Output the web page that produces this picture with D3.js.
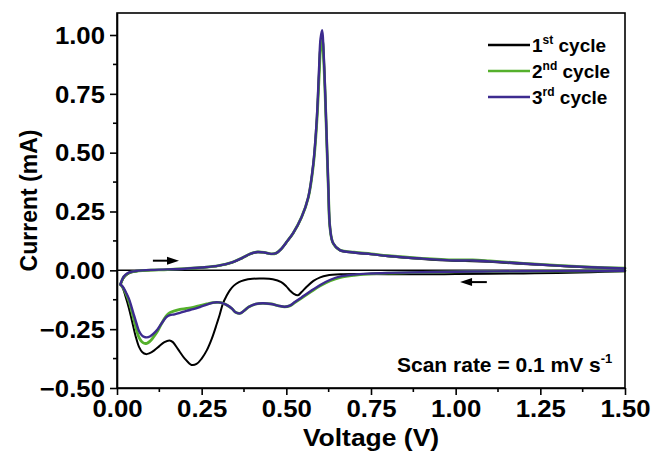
<!DOCTYPE html>
<html>
<head>
<meta charset="utf-8">
<script src="https://cdn.jsdelivr.net/npm/d3@7"></script>
<style>
  html, body { margin: 0; padding: 0; background: #fff; }
  svg { display: block; }
  text { font-family: "Liberation Sans", Arial, sans-serif; font-weight: bold; fill: #000; }
</style>
</head>
<body>
<svg id="chart" width="655" height="457"></svg>
<script>
// ---------------- DATA ----------------
const xTicks = [0.00, 0.25, 0.50, 0.75, 1.00, 1.25, 1.50];
const yTicks = [-0.50, -0.25, 0.00, 0.25, 0.50, 0.75, 1.00];
const seriesNames = ["1st cycle", "2nd cycle", "3rd cycle"];

// 1st cycle, cathodic scan (1.5 V -> 0.01 V)
const c1CathV = [1.50, 1.40, 1.30, 1.20, 1.10, 1.00, 0.90, 0.80, 0.72, 0.66, 0.62, 0.60, 0.58, 0.56, 0.545, 0.534, 0.522, 0.510, 0.500, 0.485, 0.46, 0.43, 0.40, 0.375, 0.36, 0.345, 0.333, 0.323, 0.313, 0.303, 0.295, 0.28, 0.265, 0.25, 0.235, 0.22, 0.20, 0.18, 0.165, 0.155, 0.14, 0.125, 0.11, 0.095, 0.085, 0.075, 0.065, 0.055, 0.045, 0.035, 0.025, 0.017, 0.01];
const c1CathI = [-0.004, -0.008, -0.011, -0.013, -0.015, -0.016, -0.017, -0.017, -0.016, -0.017, -0.022, -0.030, -0.045, -0.070, -0.092, -0.106, -0.100, -0.085, -0.068, -0.050, -0.038, -0.035, -0.036, -0.042, -0.050, -0.065, -0.085, -0.11, -0.14, -0.19, -0.226, -0.29, -0.34, -0.375, -0.398, -0.402, -0.375, -0.335, -0.305, -0.298, -0.305, -0.322, -0.34, -0.353, -0.356, -0.348, -0.325, -0.28, -0.22, -0.16, -0.11, -0.075, -0.06];
// 1st cycle, anodic scan (0.01 V -> 1.5 V)
const c1AnV = [0.01, 0.015, 0.02, 0.03, 0.04, 0.055, 0.075, 0.10, 0.15, 0.20, 0.25, 0.30, 0.34, 0.37, 0.395, 0.415, 0.435, 0.455, 0.47, 0.485, 0.50, 0.52, 0.545, 0.565, 0.58, 0.59, 0.597, 0.601, 0.606, 0.610, 0.614, 0.619, 0.624, 0.629, 0.638, 0.658, 0.70, 0.75, 0.80, 0.90, 1.00, 1.05, 1.10, 1.20, 1.30, 1.40, 1.50];
const c1AnI = [-0.06, -0.045, -0.032, -0.018, -0.01, -0.005, -0.002, 0.0, 0.002, 0.006, 0.011, 0.019, 0.033, 0.052, 0.07, 0.077, 0.075, 0.069, 0.072, 0.09, 0.118, 0.157, 0.225, 0.31, 0.455, 0.637, 0.85, 0.965, 1.005, 0.92, 0.78, 0.565, 0.35, 0.18, 0.115, 0.085, 0.075, 0.068, 0.06, 0.048, 0.04, 0.039, 0.036, 0.027, 0.019, 0.012, 0.008];

// 2nd & 3rd cycles, cathodic scan
const c23CathV = [1.50, 1.35, 1.20, 1.05, 0.90, 0.80, 0.74, 0.70, 0.66, 0.63, 0.60, 0.57, 0.545, 0.525, 0.51, 0.495, 0.475, 0.455, 0.43, 0.41, 0.39, 0.375, 0.363, 0.35, 0.339, 0.325, 0.313, 0.30, 0.284, 0.265, 0.245, 0.225, 0.205, 0.186, 0.17, 0.156, 0.145, 0.132, 0.12, 0.107, 0.097, 0.088, 0.08, 0.073, 0.065, 0.058, 0.05, 0.043, 0.035, 0.025, 0.017, 0.01];
const c2CathI = [-0.002, -0.003, -0.004, -0.005, -0.009, -0.012, -0.016, -0.021, -0.03, -0.044, -0.066, -0.094, -0.118, -0.137, -0.151, -0.155, -0.15, -0.143, -0.14, -0.143, -0.155, -0.172, -0.183, -0.178, -0.162, -0.148, -0.14, -0.136, -0.137, -0.143, -0.15, -0.157, -0.162, -0.166, -0.172, -0.18, -0.195, -0.225, -0.258, -0.285, -0.302, -0.31, -0.31, -0.303, -0.285, -0.255, -0.21, -0.17, -0.13, -0.095, -0.072, -0.06];
const c3CathI = [-0.002, -0.003, -0.004, -0.005, -0.008, -0.011, -0.014, -0.018, -0.026, -0.04, -0.062, -0.09, -0.115, -0.135, -0.15, -0.155, -0.15, -0.143, -0.14, -0.143, -0.155, -0.172, -0.183, -0.178, -0.162, -0.148, -0.14, -0.136, -0.137, -0.146, -0.156, -0.165, -0.172, -0.181, -0.187, -0.19, -0.2, -0.225, -0.25, -0.27, -0.281, -0.285, -0.283, -0.276, -0.258, -0.228, -0.19, -0.156, -0.12, -0.09, -0.07, -0.06];
// 2nd & 3rd cycles, anodic scan
const c23AnV = [0.01, 0.015, 0.02, 0.03, 0.04, 0.055, 0.075, 0.10, 0.15, 0.20, 0.25, 0.30, 0.34, 0.37, 0.395, 0.415, 0.435, 0.455, 0.47, 0.485, 0.50, 0.52, 0.545, 0.565, 0.58, 0.59, 0.597, 0.601, 0.606, 0.610, 0.614, 0.619, 0.624, 0.629, 0.638, 0.658, 0.70, 0.75, 0.80, 0.90, 1.00, 1.05, 1.10, 1.20, 1.30, 1.40, 1.50];
const c2AnI = [-0.06, -0.042, -0.028, -0.015, -0.008, -0.004, -0.001, 0.001, 0.003, 0.007, 0.012, 0.02, 0.034, 0.053, 0.071, 0.078, 0.076, 0.07, 0.073, 0.091, 0.119, 0.158, 0.226, 0.31, 0.45, 0.63, 0.83, 0.94, 0.98, 0.9, 0.77, 0.56, 0.35, 0.18, 0.116, 0.086, 0.077, 0.07, 0.062, 0.051, 0.044, 0.044, 0.04, 0.03, 0.021, 0.014, 0.009];
const c3AnI = [-0.06, -0.04, -0.026, -0.013, -0.007, -0.003, 0.0, 0.002, 0.004, 0.007, 0.012, 0.02, 0.034, 0.053, 0.071, 0.078, 0.076, 0.07, 0.073, 0.091, 0.119, 0.158, 0.226, 0.312, 0.458, 0.645, 0.87, 0.985, 1.02, 0.93, 0.785, 0.57, 0.355, 0.182, 0.116, 0.086, 0.076, 0.069, 0.061, 0.05, 0.042, 0.042, 0.038, 0.029, 0.02, 0.013, 0.008];

const colors = ["#000000", "#55b02c", "#3d2b8f"];
const widths = [2, 2.8, 2.4];

// ---------------- LAYOUT ----------------
const svg = d3.select("#chart");
const L = 117, R = 625, T = 13, B = 388;
const x = d3.scaleLinear().domain([0, 1.5]).range([L, R]);
const y = d3.scaleLinear().domain([-0.5, 1.0]).range([B, 35]);
const yTop = y.invert(T);
y.domain([-0.5, yTop]).range([B, T]);

function stretch(sel, f) {
  sel.each(function () {
    const w = this.getComputedTextLength();
    d3.select(this).attr("textLength", w * f).attr("lengthAdjust", "spacingAndGlyphs");
  });
}

// zero line
svg.append("line").attr("x1", x(0)).attr("x2", x(1.5)).attr("y1", y(0)).attr("y2", y(0))
  .attr("stroke", "#000").attr("stroke-width", 1.5);

// curves
const line = d3.line().x(d => x(d[0])).y(d => y(d[1])).curve(d3.curveCatmullRom.alpha(0.5));
const curves = [
  [[c1CathV, c1CathI], [c1AnV, c1AnI]],
  [[c23CathV, c2CathI], [c23AnV, c2AnI]],
  [[c23CathV, c3CathI], [c23AnV, c3AnI]]
];
curves.forEach((segs, k) => {
  segs.forEach(([vs, is]) => {
    svg.append("path").datum(vs.map((v, j) => [v, is[j]]))
      .attr("d", line).attr("fill", "none")
      .attr("stroke", colors[k]).attr("stroke-width", widths[k])
      .attr("stroke-linejoin", "round").attr("stroke-linecap", "round");
  });
});

// frame
svg.append("rect").attr("x", L).attr("y", T).attr("width", R - L).attr("height", B - T)
  .attr("fill", "none").attr("stroke", "#000").attr("stroke-width", 1.6);

// axes
const xAxis = d3.axisBottom(x).tickValues(xTicks).tickFormat(d3.format(".2f")).tickSize(7).tickSizeOuter(0).tickPadding(3);
const gx = svg.append("g").attr("transform", `translate(0,${B})`).call(xAxis);
const yAxis = d3.axisLeft(y).tickValues(yTicks).tickFormat(d3.format(".2f")).tickSize(7).tickSizeOuter(0).tickPadding(5);
const gy = svg.append("g").attr("transform", `translate(${L},0)`).call(yAxis);
[gx, gy].forEach(g => {
  g.select(".domain").attr("stroke", "#000").attr("stroke-width", 1.6);
  g.selectAll(".tick line").attr("stroke", "#000").attr("stroke-width", 1.6);
  g.selectAll(".tick text").style("font-size", "23px").style("font-family", "Liberation Sans, Arial, sans-serif").style("font-weight", "bold");
});
stretch(gx.selectAll(".tick text"), 1.12);
stretch(gy.selectAll(".tick text"), 1.12);
gy.selectAll(".tick text").attr("dy", "0.36em");
gx.selectAll(".tick text").attr("dy", "0.82em");

// minor ticks
const xMinor = d3.range(0.125, 1.5, 0.25);
const yMinor = d3.range(-0.375, 1.0, 0.25);
svg.append("g").selectAll("line").data(xMinor).join("line")
  .attr("x1", d => x(d)).attr("x2", d => x(d)).attr("y1", B).attr("y2", B + 4)
  .attr("stroke", "#000").attr("stroke-width", 1.6);
svg.append("g").selectAll("line").data(yMinor).join("line")
  .attr("x1", L - 4).attr("x2", L).attr("y1", d => y(d)).attr("y2", d => y(d))
  .attr("stroke", "#000").attr("stroke-width", 1.6);

// axis titles
const xt = svg.append("text").attr("x", (L + R) / 2).attr("y", 446).attr("text-anchor", "middle")
  .style("font-size", "23px").text("Voltage (V)");
stretch(xt, 1.15);
const yt = svg.append("text").attr("transform", `translate(37,${(T + B) / 2}) rotate(-90)`)
  .attr("text-anchor", "middle").style("font-size", "23px").text("Current (mA)");

// legend
const supers = ["st", "nd", "rd"];
const legendY = [45, 71, 97];
seriesNames.forEach((name, k) => {
  svg.append("line").attr("x1", 488).attr("x2", 530).attr("y1", legendY[k]).attr("y2", legendY[k])
    .attr("stroke", colors[k]).attr("stroke-width", 2.6);
  const t = svg.append("text").attr("x", 532).attr("y", legendY[k] + 7).style("font-size", "19px");
  t.append("tspan").text(name.charAt(0));
  t.append("tspan").attr("dy", -8).style("font-size", "12px").text(supers[k]);
  t.append("tspan").attr("dy", 8).text(" " + name.split(" ")[1]);
});

// scan rate annotation
const sr = svg.append("text").attr("x", 397).attr("y", 372).style("font-size", "21px");
sr.append("tspan").text("Scan rate = 0.1 mV s");
sr.append("tspan").attr("dy", -9).style("font-size", "13px").text("-1");

// arrows
function arrow(v0, v1, iv) {
  const x0 = x(v0), x1 = x(v1), yy = y(iv);
  const dir = Math.sign(x1 - x0);
  svg.append("line").attr("x1", x0).attr("x2", x1 - dir * 8).attr("y1", yy).attr("y2", yy)
    .attr("stroke", "#000").attr("stroke-width", 2);
  svg.append("path").attr("d", `M${x1},${yy} L${x1 - dir * 12},${yy - 4} L${x1 - dir * 12},${yy + 4} Z`).attr("fill", "#000");
}
arrow(0.106, 0.183, 0.041);
arrow(1.092, 1.013, -0.05);
</script>
</body>
</html>
